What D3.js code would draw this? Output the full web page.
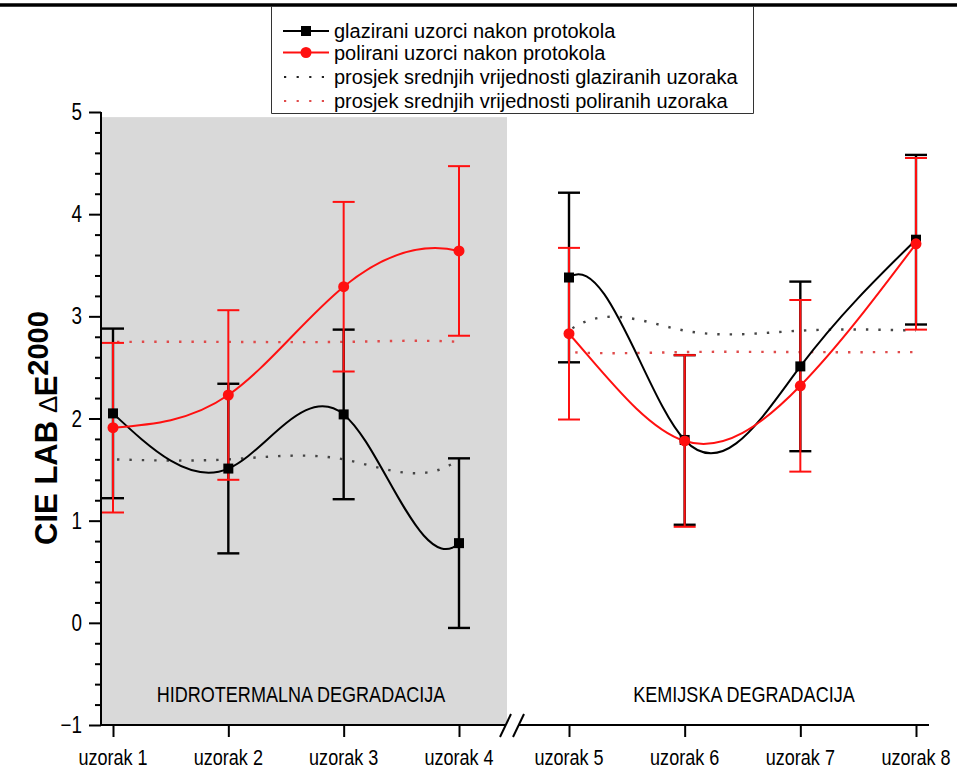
<!DOCTYPE html>
<html><head><meta charset="utf-8">
<script src="https://cdn.jsdelivr.net/npm/d3@7"></script>
<style>body{margin:0;background:#fff} svg{display:block}</style>
</head><body><svg id="c" width="957" height="769"></svg>
<script>
// ---------- data ----------
const categories = ["uzorak 1","uzorak 2","uzorak 3","uzorak 4","uzorak 5","uzorak 6","uzorak 7","uzorak 8"];
const positions = [1,2,3,4,5,6,7,8];
const glazedMean = [2.05,1.51,2.04,0.78,3.38,1.79,2.51,3.75];
const glazedErr  = [0.83,0.83,0.83,0.83,0.83,0.83,0.83,0.83];
const polishedMean = [1.91,2.23,3.29,3.64,2.83,1.78,2.32,3.71];
const polishedErr  = [0.83,0.83,0.83,0.83,0.84,0.84,0.84,0.84];
const glazedAvg   = [1.60,1.60,1.60,1.60,2.86,2.86,2.86,2.86];
const polishedAvg = [2.75,2.75,2.75,2.75,2.65,2.65,2.65,2.65];
const yTicks = [-1,0,1,2,3,4,5];
const regionLabels = ["HIDROTERMALNA DEGRADACIJA","KEMIJSKA DEGRADACIJA"];
const legendLabels = ["glazirani uzorci nakon protokola","polirani uzorci nakon protokola",
  "prosjek srednjih vrijednosti glaziranih uzoraka","prosjek srednjih vrijednosti poliranih uzoraka"];

// ---------- setup ----------
const svg = d3.select("#c");
const FONT = "'Liberation Sans', Arial, sans-serif";
const RED = "#ff1010", BLACK = "#000";
const NARROW = 0.82;

const x = d3.scaleLinear().domain([1,4,5,8]).range([113,459,569,916]);
const y = d3.scaleLinear().domain([-1,5]).range([725,112]);
const axisX = 101;

// gray band (hydrothermal region)
svg.append("rect").attr("x", axisX).attr("y", y(4.95))
  .attr("width", 507 - axisX).attr("height", y(-1) - y(4.95)).attr("fill", "#d9d9d9");

// clip: hide the connecting segment between sample 4 and 5
const defs = svg.append("defs");
const cp = defs.append("clipPath").attr("id","seg");
cp.append("rect").attr("x",0).attr("y",0).attr("width",x(4)).attr("height",769);
cp.append("rect").attr("x",x(5)).attr("y",0).attr("width",957-x(5)).attr("height",769);

const line = d3.line().x((d,i)=>x(positions[i])).y(d=>y(d)).curve(d3.curveNatural);

const plot = svg.append("g");
// dotted averages
plot.append("path").attr("d", line(glazedAvg)).attr("clip-path","url(#seg)")
  .attr("fill","none").attr("stroke","#444").attr("stroke-width",2.4)
  .attr("stroke-dasharray","2.4,10").attr("stroke-dashoffset",-4);
plot.append("path").attr("d", line(polishedAvg)).attr("clip-path","url(#seg)")
  .attr("fill","none").attr("stroke","#e04a4a").attr("stroke-width",2.4)
  .attr("stroke-dasharray","2.4,10").attr("stroke-dashoffset",-4);
// solid spline lines
plot.append("path").attr("d", line(glazedMean)).attr("clip-path","url(#seg)")
  .attr("fill","none").attr("stroke",BLACK).attr("stroke-width",2);
plot.append("path").attr("d", line(polishedMean)).attr("clip-path","url(#seg)")
  .attr("fill","none").attr("stroke",RED).attr("stroke-width",2);

function errorBars(means, errs, color, w) {
  const g = plot.append("g").attr("stroke", color).attr("stroke-width", w).attr("fill","none");
  means.forEach((m,i) => {
    const cx = x(positions[i]), t = y(m+errs[i]), b = y(m-errs[i]);
    g.append("line").attr("x1",cx).attr("x2",cx).attr("y1",t).attr("y2",b);
    g.append("line").attr("x1",cx-11).attr("x2",cx+11).attr("y1",t).attr("y2",t);
    g.append("line").attr("x1",cx-11).attr("x2",cx+11).attr("y1",b).attr("y2",b);
  });
}
errorBars(glazedMean, glazedErr, BLACK, 2.4);
errorBars(polishedMean, polishedErr, RED, 2);

plot.append("g").selectAll("rect").data(glazedMean).join("rect")
  .attr("x",(d,i)=>x(positions[i])-5).attr("y",d=>y(d)-5)
  .attr("width",10).attr("height",10).attr("fill",BLACK);
plot.append("g").selectAll("circle").data(polishedMean).join("circle")
  .attr("cx",(d,i)=>x(positions[i])).attr("cy",d=>y(d)).attr("r",5.5).attr("fill",RED);

// ---------- axes ----------
const ax = svg.append("g").attr("stroke","#000").attr("stroke-width",2).attr("fill","none");
ax.append("line").attr("x1",axisX).attr("x2",axisX).attr("y1",y(5)).attr("y2",y(-1)+1);
// x axis with break
ax.append("line").attr("x1",axisX-1).attr("x2",506).attr("y1",y(-1)).attr("y2",y(-1));
ax.append("line").attr("x1",518).attr("x2",929).attr("y1",y(-1)).attr("y2",y(-1));
ax.append("line").attr("x1",500).attr("y1",737).attr("x2",511).attr("y2",714);
ax.append("line").attr("x1",513).attr("y1",737).attr("x2",524).attr("y2",714);

// y ticks (major + minor)
const minor = d3.range(-1, 5.0001, 0.2).map(v=>+v.toFixed(2)).filter(v=>Math.abs(v-Math.round(v))>1e-6);
const yAxis = d3.axisLeft(y).tickValues(yTicks).tickSize(12).tickSizeOuter(0).tickFormat(d3.format("d"));
const gy = svg.append("g").attr("transform",`translate(${axisX},0)`).call(yAxis);
gy.select(".domain").remove();
gy.selectAll(".tick line").attr("stroke-width",2);
gy.selectAll(".tick text").remove();
const gyMinor = svg.append("g").attr("transform",`translate(${axisX},0)`)
  .call(d3.axisLeft(y).tickValues(minor).tickSize(6).tickFormat(""));
gyMinor.select(".domain").remove();
gyMinor.selectAll(".tick line").attr("stroke-width",2);
// y tick labels (narrow)
svg.append("g").selectAll("text").data(yTicks).join("text")
  .attr("transform", d=>`translate(82,${y(d)+8}) scale(${NARROW},1)`)
  .attr("text-anchor","end").attr("font-family",FONT).attr("font-size",23)
  .text(d=>d3.format("d")(d));

// x ticks
const xAxis = d3.axisBottom(x).tickValues(positions).tickSize(12).tickFormat("");
const gx = svg.append("g").attr("transform",`translate(0,${y(-1)})`).call(xAxis);
gx.select(".domain").remove();
gx.selectAll(".tick line").attr("stroke-width",2);
svg.append("g").selectAll("text").data(categories).join("text")
  .attr("transform",(d,i)=>`translate(${x(positions[i])},765) scale(${NARROW},1)`)
  .attr("text-anchor","middle").attr("font-family",FONT).attr("font-size",22)
  .text(d=>d);

// region labels
const regionCenters = [301, 744];
svg.append("g").selectAll("text").data(regionLabels).join("text")
  .attr("transform",(d,i)=>`translate(${regionCenters[i]},702) scale(${NARROW},1)`)
  .attr("text-anchor","middle").attr("font-family",FONT).attr("font-size",22)
  .text(d=>d);

// y label
const yl = svg.append("text").attr("transform","translate(57,428) rotate(-90)")
  .attr("text-anchor","middle").attr("font-family",FONT).attr("font-size",31).attr("font-weight","bold");
yl.append("tspan").text("CIE LAB ");
yl.append("tspan").attr("font-weight","normal").attr("font-size",26).text("\u2206");
yl.append("tspan").text("E");
yl.append("tspan").attr("dy",-9).attr("font-size",29).text("2000");

// ---------- top rule & legend ----------
svg.append("line").attr("x1",0).attr("x2",957).attr("y1",5).attr("y2",5).attr("stroke","#000").attr("stroke-width",3.5);
svg.append("path").attr("d","M271.5,6 V113.5 H753.5 V6").attr("fill","none").attr("stroke","#333").attr("stroke-width",1);
const rowsY = [31, 52.5, 77, 101];
const lg = svg.append("g");
lg.append("line").attr("x1",283).attr("x2",329).attr("y1",rowsY[0]).attr("y2",rowsY[0]).attr("stroke",BLACK).attr("stroke-width",2);
lg.append("rect").attr("x",301).attr("y",rowsY[0]-5).attr("width",10).attr("height",10).attr("fill",BLACK);
lg.append("line").attr("x1",283).attr("x2",329).attr("y1",rowsY[1]).attr("y2",rowsY[1]).attr("stroke",RED).attr("stroke-width",2);
lg.append("circle").attr("cx",306).attr("cy",rowsY[1]).attr("r",5.5).attr("fill",RED);
lg.append("line").attr("x1",284).attr("x2",329).attr("y1",rowsY[2]).attr("y2",rowsY[2]).attr("stroke","#222").attr("stroke-width",2.2).attr("stroke-dasharray","2.2,10.4");
lg.append("line").attr("x1",284).attr("x2",329).attr("y1",rowsY[3]).attr("y2",rowsY[3]).attr("stroke","#e04a4a").attr("stroke-width",2.2).attr("stroke-dasharray","2.2,10.4");
lg.selectAll("text").data(legendLabels).join("text")
  .attr("x",334).attr("y",(d,i)=>rowsY[i]+7).attr("font-family",FONT).attr("font-size",20).text(d=>d);
</script></body></html>
